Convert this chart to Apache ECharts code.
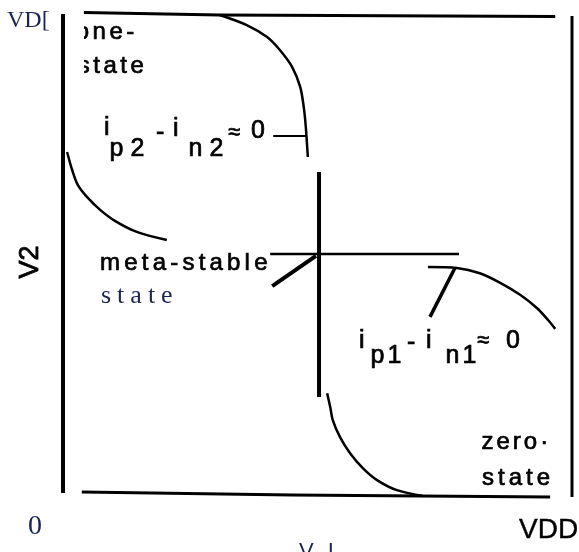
<!DOCTYPE html>
<html>
<head>
<meta charset="utf-8">
<script src="https://cdn.jsdelivr.net/npm/echarts@6/dist/echarts.min.js"></script>
<style>
  html, body { margin: 0; padding: 0; background: #fff; }
  #chart { width: 579px; height: 552px; }
</style>
</head>
<body>
<div id="chart"></div>
<script>
// Static transfer curves of a cross-coupled latch, V1 and V2 normalised to VDD.
const leftEdge = [[0, 1.0], [0, 0.002]];
const rightEdge = [[1, 0.996], [1, -0.006]];
const topRail = [[0.041, 1.003], [0.308, 0.998], [0.967, 0.995]];
const bottomRail = [[0.037, 0.004], [0.45, -0.002], [0.957, -0.006]];
const upperArc = [[0.308, 0.998], [0.361, 0.977], [0.401, 0.952], [0.426, 0.925], [0.450, 0.890],
  [0.466, 0.848], [0.473, 0.806], [0.477, 0.765], [0.481, 0.702]];
const centreVertical = [[0.503, 0.671], [0.503, 0.202]];
const centreHorizontal = [[0.407, 0.5], [0.778, 0.5]];
const lowerArc = [[0.519, 0.210], [0.525, 0.181], [0.530, 0.154], [0.544, 0.119], [0.564, 0.085],
  [0.589, 0.054], [0.617, 0.029], [0.656, 0.008], [0.707, -0.004]];
const leftArc = [[0.008, 0.7125], [0.018, 0.675], [0.029, 0.644], [0.047, 0.619], [0.073, 0.592],
  [0.102, 0.569], [0.145, 0.546], [0.204, 0.529]];
const rightArc = [[0.717, 0.473], [0.774, 0.471], [0.819, 0.460], [0.859, 0.440], [0.898, 0.415],
  [0.931, 0.3875], [0.953, 0.3625], [0.967, 0.344]];
const leaderP2 = [[0.413, 0.746], [0.479, 0.746]];
const leaderMeta = [[0.411, 0.433], [0.497, 0.496]];
const leaderP1 = [[0.770, 0.471], [0.721, 0.369]];

const xTickLabels = ['0', 'VDD'];
const yTickLabels = ['VD['];
const xName = 'V I';
const yName = 'V2';

const INK = '#000';
const BLUE_INK = '#1c2550';
const SANS = '"Liberation Sans", Arial, sans-serif';
const SERIF = '"Liberation Serif", "Times New Roman", serif';

function stroke(data, width, smooth) {
  return {
    type: 'line', data: data, symbol: 'none', showSymbol: false, clip: false,
    smooth: smooth || false, silent: true, animation: false,
    lineStyle: { color: INK, width: width, cap: 'butt', join: 'round' }
  };
}

// one rich-text token per character so glyphs can be tracked apart
function spaced(str) {
  return str.split('').map(function (c) { return '{c|' + c + '}'; }).join('');
}
function label(str, x, y, size, gap, opts) {
  opts = opts || {};
  const font = (opts.weight || 'normal') + ' ' + size + 'px ' + (opts.family || SANS);
  const fill = opts.fill || INK;
  const bold = opts.heavy === undefined ? 0.7 : opts.heavy;
  return {
    type: 'text', x: x, y: y, rotation: opts.rotation || 0, z: 10,
    style: {
      text: gap ? spaced(str) : str,
      fill: fill, font: font,
      stroke: bold ? fill : null, lineWidth: bold,
      textAlign: opts.align || 'left',
      textVerticalAlign: 'middle',
      rich: { c: { font: font, fill: fill, stroke: bold ? fill : null, lineWidth: bold,
        padding: [0, gap / 2] } }
    }
  };
}

const chart = echarts.init(document.getElementById('chart'), null, { renderer: 'canvas' });
chart.setOption({
  backgroundColor: '#fff',
  animation: false,
  grid: { left: 63, right: 7, top: 14, bottom: 58 },
  xAxis: { type: 'value', min: 0, max: 1, show: false },
  yAxis: { type: 'value', min: 0, max: 1, show: false },
  series: [
    stroke(leftEdge, 4),
    stroke(rightEdge, 3),
    stroke(topRail, 3),
    stroke(bottomRail, 3),
    stroke(upperArc, 2.5, 0.3),
    stroke(centreVertical, 4),
    stroke(centreHorizontal, 2.5),
    stroke(lowerArc, 2.5, 0.3),
    stroke(leftArc, 2.5, 0.3),
    stroke(rightArc, 2.5, 0.3),
    stroke(leaderP2, 2),
    stroke(leaderMeta, 4),
    stroke(leaderP1, 3.5)
  ],
  graphic: [
    label(yTickLabels[0], 7, 21, 24, 0, { family: SERIF, fill: BLUE_INK, heavy: 0 }),
    label(xTickLabels[0], 28, 527, 28, 0, { family: SERIF, fill: BLUE_INK, heavy: 0 }),
    label(xTickLabels[1], 519, 530, 28, 0, { heavy: 0.4 }),
    label(xName, 297, 552, 22, 4, { fill: BLUE_INK, heavy: 0 }),
    label(yName, 31, 262, 27, 0, { rotation: Math.PI / 2, align: 'center', heavy: 0.8 }),

    label('one-', 74, 32, 24, 3.5),
    label('state', 76, 66, 24, 3.5),
    // the "one-/state" words run under the left rail's margin
    { type: 'rect', shape: { x: 66, y: 20, width: 18, height: 62 }, z: 11,
      style: { fill: '#fff' } },

    label('meta-stable', 98, 263, 24, 4.2),
    label('state', 98, 296, 26, 6, { family: SERIF, fill: BLUE_INK, heavy: 0 }),

    label('zero·', 480, 442, 24, 3),
    label('state', 480, 478, 24, 4),

    // i_p2 - i_n2 ≈ 0
    label('i', 104, 128, 25, 0),
    label('p2', 106, 149, 25, 7),
    label('-', 156, 133, 25, 0),
    label('i', 173, 129, 25, 0),
    label('n2', 185, 149, 25, 7),
    label('≈', 228, 133, 22, 0),
    label('0', 251, 131, 25, 0),

    // i_p1 - i_n1 ≈ 0
    label('i', 359, 341, 25, 0),
    label('p1', 369, 356, 25, 3),
    label('-', 407, 343, 25, 0),
    label('i', 426, 341, 25, 0),
    label('n1', 444, 356, 25, 3),
    label('≈', 477, 341, 22, 0),
    label('0', 506, 341, 25, 0)
  ]
});
</script>
</body>
</html>
